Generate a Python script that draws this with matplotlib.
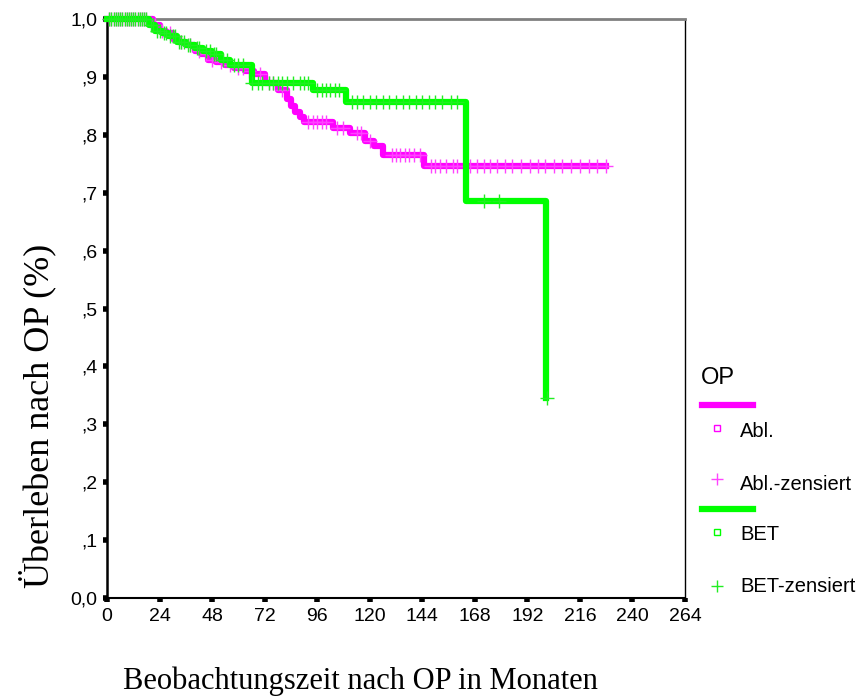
import numpy as np
import matplotlib.pyplot as plt
from matplotlib.lines import Line2D

# Kaplan-Meier data (months, survival)
abl_events = [21, 24, 27, 30, 33, 36, 40, 43, 46, 50, 54, 58, 63, 67, 72, 78, 82, 84, 86, 88, 90, 103, 111, 118, 122, 126, 145]
abl_surv = [0.99, 0.98, 0.975, 0.965, 0.96, 0.955, 0.945, 0.94, 0.93, 0.925, 0.92, 0.915, 0.91, 0.905, 0.89, 0.877, 0.862, 0.85, 0.84, 0.83, 0.822, 0.812, 0.803, 0.79, 0.78, 0.765, 0.746]
abl_end = 228
abl_censored = [1, 2, 3, 4, 5, 6, 7, 8, 9, 10, 11, 12, 13, 14, 15, 16, 17, 18, 22, 25, 29, 34, 38, 42, 45, 48, 52, 56,
                60, 62, 65, 70, 74, 76, 80, 92, 94, 96, 98, 100, 105, 108, 114, 116, 120, 130, 132, 134, 136, 138,
                140, 143, 148, 150, 152, 155, 158, 160, 163, 166, 169, 172, 175, 178, 182, 185, 189, 193, 197, 200,
                204, 208, 212, 216, 220, 224, 228]

bet_events = [19, 22, 25, 28, 32, 36, 40, 44, 48, 52, 56, 66, 94, 109, 164, 200.5]
bet_surv = [0.99, 0.98, 0.975, 0.97, 0.96, 0.955, 0.95, 0.945, 0.94, 0.93, 0.92, 0.89, 0.877, 0.857, 0.686, 0.345]
bet_censored = [1, 2, 3, 4, 5, 6, 7, 8, 9, 10, 11, 12, 13, 14, 15, 16, 17, 18, 20, 21, 23, 24, 26, 27, 29, 30, 31, 33,
                34, 35, 37, 38, 41, 42, 45, 47, 49, 50, 53, 55, 58, 60, 62, 66, 69, 71, 74, 76, 78, 80, 82, 85, 88,
                90, 92, 96, 98, 100, 102, 104, 106, 112, 114, 117, 120, 123, 126, 129, 132, 135, 138, 141, 144, 147,
                150, 153, 157, 160, 172, 179, 201]

x_ticks = np.arange(0, 265, 24)
y_ticks = np.arange(0, 1.01, 0.1)
y_labels = ['0,0', ',1', ',2', ',3', ',4', ',5', ',6', ',7', ',8', ',9', '1,0']

MAG = '#ff00ff'
GRN = '#00ff00'


def surv_at(events, surv, t):
    i = np.searchsorted(events, t, side='right')
    return 1.0 if i == 0 else surv[i - 1]


def px(x, y):
    return x / 860, 1 - y / 697


fig = plt.figure(figsize=(8.6, 6.97), dpi=100)
ax = fig.add_axes([107 / 860, 1 - 598 / 697, 578 / 860, 579 / 697])

# Abl. curve
ax.step([0] + abl_events + [abl_end], [1.0] + abl_surv + [abl_surv[-1]], where='post',
        color=MAG, lw=4.5, clip_on=False, zorder=3)
ax.plot(abl_censored, [surv_at(abl_events, abl_surv, t) for t in abl_censored], '+',
        color='#ff44ff', ms=10, mew=1, clip_on=False, zorder=3)

# BET curve
ax.step([0] + bet_events, [1.0] + bet_surv, where='post',
        color=GRN, lw=4.5, clip_on=False, zorder=4)
ax.plot(bet_censored, [surv_at(bet_events, bet_surv, t) for t in bet_censored], '+',
        color='#22ee22', ms=10, mew=1, clip_on=False, zorder=4)

ax.set_xlim(0, 264)
ax.set_ylim(0, 1.0)
ax.set_xticks(x_ticks)
ax.set_yticks(y_ticks)
ax.set_yticklabels(y_labels)
ax.tick_params(direction='out', length=3, width=4, color='black', labelsize=14, pad=4)
for lab in ax.get_xticklabels() + ax.get_yticklabels():
    lab.set_family('Liberation Sans')

ax.spines['left'].set_linewidth(1.8)
ax.spines['bottom'].set_linewidth(1.5)
ax.spines['right'].set_linewidth(1.0)
ax.spines['top'].set_color('#808080')
ax.spines['top'].set_linewidth(2)

# axis titles
fig.text(*px(37, 416), 'Überleben nach OP (%)', rotation=90, ha='center', va='center',
         family='Liberation Serif', fontsize=26)
fig.text(*px(360, 689), 'Beobachtungszeit nach OP in Monaten', ha='center', va='baseline',
         family='Liberation Serif', fontsize=22)

# legend drawn by hand
fig.text(*px(701, 378), 'OP', ha='left', va='center', family='Liberation Sans', fontsize=17)
entries = [
    (405, 428, 432, 479, 484, MAG, '#ff44ff', 'Abl.', 'Abl.-zensiert'),
    (509, 532, 534, 586, 587, GRN, '#22ee22', 'BET', 'BET-zensiert'),
]
for ly, sy, sty, py, pty, col, ccol, name, cname in entries:
    x0, y0 = px(702, ly)
    x1, _ = px(753, ly)
    fig.add_artist(Line2D([x0, x1], [y0, y0], color=col, lw=4.5))
    mx, my = px(717, sy)
    fig.add_artist(Line2D([mx], [my], marker='s', ms=5, mfc='none', mec=col, mew=1, ls='none'))
    fig.text(*px(740, sty), name, ha='left', va='center', family='Liberation Sans', fontsize=14.5)
    mx, my = px(717, py)
    fig.add_artist(Line2D([mx], [my], marker='+', ms=9, mec=ccol, mew=1, ls='none'))
    fig.text(*px(740, pty), cname, ha='left', va='center', family='Liberation Sans', fontsize=14.5)

plt.savefig('out.png', dpi=100)
plt.close()
